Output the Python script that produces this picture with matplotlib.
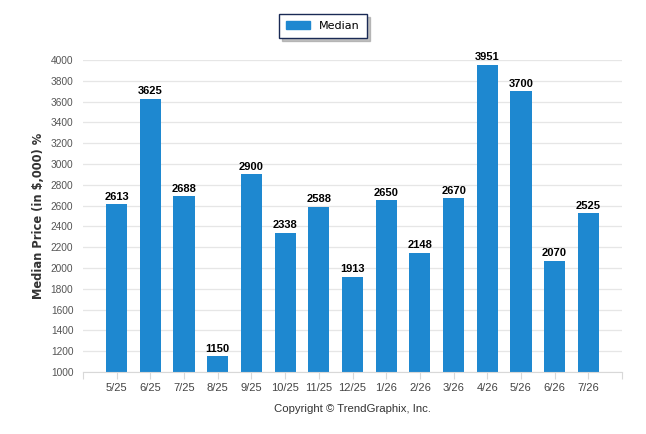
import matplotlib
matplotlib.use('Agg')
import matplotlib.pyplot as plt
from matplotlib.patches import Patch

months = ['5/25', '6/25', '7/25', '8/25', '9/25', '10/25', '11/25', '12/25',
          '1/26', '2/26', '3/26', '4/26', '5/26', '6/26', '7/26']
median = [2613, 3625, 2688, 1150, 2900, 2338, 2588, 1913,
          2650, 2148, 2670, 3951, 3700, 2070, 2525]
yticks = list(range(1000, 4001, 200))

bar_color = '#1E88D0'

fig = plt.figure(figsize=(6.46, 4.34), dpi=100)
ax = fig.add_axes([83 / 646, 1 - 372 / 434, (622 - 83) / 646, (372 - 60) / 434])

x = list(range(len(months)))
bars = ax.bar(x, [v - 1000 for v in median], bottom=1000, width=0.63,
              color=bar_color, zorder=3)

for xi, v in zip(x, median):
    ax.text(xi, v + 25, str(v), ha='center', va='bottom', fontsize=8,
            fontweight='bold', family='Liberation Sans', color='#000000', zorder=4)

ax.set_xlim(-1, 15)
ax.set_ylim(1000, 4000)
ax.set_yticks(yticks)
ax.set_yticklabels([str(t) for t in yticks], fontsize=7.3, family='Liberation Sans', color='#555555')
ax.set_xticks(list(range(-1, 16)))
ax.set_xticklabels([''] + months + [''], fontsize=8, family='Liberation Sans', color='#444444')
ax.tick_params(axis='y', length=0, pad=7)
ax.tick_params(axis='x', length=5, color='#d8d8d8', pad=3)

ax.grid(axis='y', color='#e6e6e6', linewidth=0.9, zorder=0)
for s in ['top', 'right', 'left']:
    ax.spines[s].set_visible(False)
ax.spines['bottom'].set_color('#d8d8d8')
ax.spines['bottom'].set_zorder(5)

ax.set_ylabel('Median Price (in $,000) %', fontsize=8.3, fontweight='bold',
              family='DejaVu Sans', color='#333333', labelpad=4)

leg = fig.legend(handles=[Patch(color=bar_color, label='Median')],
                 loc='center', bbox_to_anchor=(323 / 646, 1 - 26 / 434),
                 frameon=True, fancybox=False,
                 shadow={'color': '#999999', 'alpha': 0.6, 'ox': 2, 'oy': -2},
                 handlelength=2.2, handleheight=0.7, borderpad=0.65,
                 prop={'family': 'DejaVu Sans', 'size': 8})
leg.get_frame().set_edgecolor('#1a2a55')
leg.get_frame().set_linewidth(1.0)

fig.text(353 / 646, 1 - 409 / 434, 'Copyright \u00a9 TrendGraphix, Inc.', ha='center', va='center',
         fontsize=8.2, family='Liberation Sans', color='#333333')

fig.savefig('out.png', dpi=100)
